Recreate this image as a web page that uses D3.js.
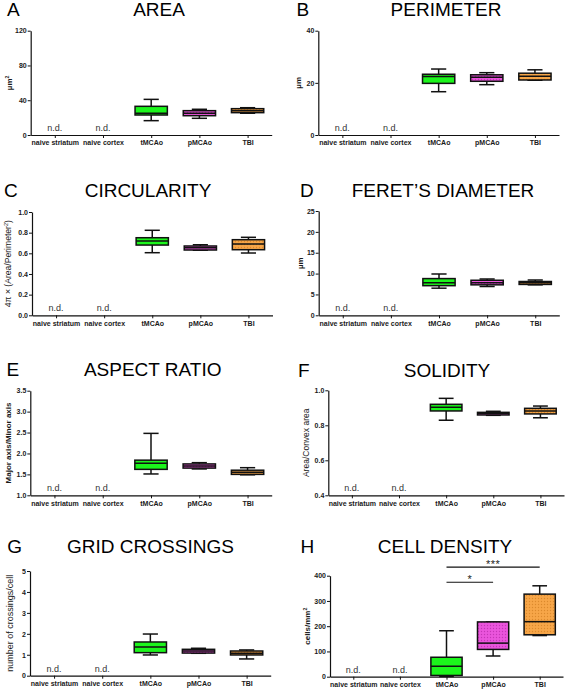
<!DOCTYPE html>
<html><head><meta charset="utf-8">
<script src="https://cdn.jsdelivr.net/npm/d3@7"></script>
<style>body{margin:0;background:#fff}svg{display:block;font-family:Arial,"Liberation Sans",sans-serif}</style>
</head><body><svg id="c" width="568" height="690"></svg>
<script>
// ---------- data ----------
const categories = ["naive striatum", "naive cortex", "tMCAo", "pMCAo", "TBI"];
const panelLetters = ["A", "B", "C", "D", "E", "F", "G", "H"];
const panelTitles = ["AREA", "PERIMETER", "CIRCULARITY", "FERET\u2019S DIAMETER", "ASPECT RATIO", "SOLIDITY", "GRID CROSSINGS", "CELL DENSITY"];
// box stats: [min, q1, median, q3, max]; null = n.d.
const areaBox = [null, null, [16.5, 23, 25, 33, 41], [19.2, 22.2, 25, 28, 29.6], [25, 25.7, 28, 30.3, 31.4]];
const perimeterBox = [null, null, [16.6, 19.8, 22.4, 23.3, 25.3], [19.3, 20.6, 22.1, 23.1, 23.9], [21, 21.1, 22.5, 23.7, 25]];
const circularityBox = [null, null, [0.606, 0.68, 0.719, 0.751, 0.823], [0.63, 0.632, 0.654, 0.671, 0.683], [0.603, 0.635, 0.69, 0.732, 0.755]];
const feretBox = [null, null, [6.5, 7.1, 7.8, 8.8, 9.9], [6.9, 7.3, 7.8, 8.4, 8.7], [7.3, 7.4, 7.8, 8.1, 8.46]];
const aspectBox = [null, null, [1.51, 1.62, 1.765, 1.84, 2.48], [1.63, 1.65, 1.70, 1.75, 1.78], [1.49, 1.50, 1.55, 1.60, 1.66]];
const solidityBox = [null, null, [0.829, 0.882, 0.903, 0.92, 0.954], [0.857, 0.859, 0.868, 0.874, 0.88], [0.843, 0.865, 0.882, 0.897, 0.91]];
const gridBox = [null, null, [0.99, 1.10, 1.37, 1.61, 1.99], [1.07, 1.08, 1.18, 1.26, 1.31], [0.80, 0.99, 1.07, 1.18, 1.23]];
const densityBox = [null, null, [1, 5, 41, 77, 182], [82, 108, 133, 217, 217], [163, 166, 218, 327, 360]];
// y axes
const areaTicks = [0, 40, 80, 120];
const perimeterTicks = [0, 20, 40];
const circularityTicks = [0, 0.2, 0.4, 0.6, 0.8, 1.0];
const feretTicks = [0, 5, 10, 15, 20, 25];
const aspectTicks = [1.0, 1.5, 2.0, 2.5, 3.0, 3.5];
const solidityTicks = [0.4, 0.6, 0.8, 1.0];
const gridTicks = [0, 1, 2, 3, 4, 5];
const densityTicks = [0, 100, 200, 300, 400];
const yLabels = [
  [["\u00b5m"], ["2", 1]],
  [["\u00b5m"]],
  [["4\u03c0 \u00d7 (Area/Perimeter"], ["2", 1], [")", 2]],
  [["\u00b5m"]],
  [["Major axis/Minor axis"]],
  [["Area/Convex area"]],
  [["number of crossings/cell"]],
  [["cells/mm"], ["2", 1]]
];
// significance in H: [from, to, bar level (cells/mm2), label]
const densitySig = [["tMCAo", "TBI", 434, "***"], ["tMCAo", "pMCAo", 374, "*"]];

// ---------- layout ----------
const fills = { "tMCAo": "#1cf51c", "pMCAo": "url(#patP)", "TBI": "url(#patT)" };
const panels = [
  { box: areaBox, ticks: areaTicks, fmt: d3.format("d"), x0: 30.7, x1: 271.7, yTop: 30.7, yBot: 135, tx: 159, ty: 15.5, lx: 7, ylx: 12, yl: { size: 8, bold: 1 } },
  { box: perimeterBox, ticks: perimeterTicks, fmt: d3.format("d"), x0: 318.3, x1: 559, yTop: 30.7, yBot: 135, tx: 446, ty: 15.5, lx: 296.5, ylx: 301, yl: { size: 8, bold: 1 } },
  { box: circularityBox, ticks: circularityTicks, fmt: d3.format(".1f"), x0: 32, x1: 272.5, yTop: 212, yBot: 315.3, tx: 148, ty: 196.7, lx: 4, ylx: 11, yl: { size: 8.6, bold: 0 } },
  { box: feretBox, ticks: feretTicks, fmt: d3.format("d"), x0: 318.7, x1: 559.3, yTop: 211, yBot: 315.3, tx: 443, ty: 196.7, lx: 300, ylx: 302.5, yl: { size: 8, bold: 1 } },
  { box: aspectBox, ticks: aspectTicks, fmt: d3.format(".1f"), x0: 30.3, x1: 271.7, yTop: 390.7, yBot: 495.3, tx: 152.7, ty: 375.5, lx: 6.5, ylx: 11, yl: { size: 8, bold: 1 } },
  { box: solidityBox, ticks: solidityTicks, fmt: d3.format(".1f"), x0: 328.3, x1: 564, yTop: 390.3, yBot: 495.3, tx: 447, ty: 376.5, lx: 298, ylx: 309, yl: { size: 8.5, bold: 0 } },
  { box: gridBox, ticks: gridTicks, fmt: d3.format("d"), x0: 30, x1: 270.7, yTop: 571, yBot: 675.7, tx: 150.5, ty: 553, lx: 7.3, ylx: 13, yl: { size: 9, bold: 0 } },
  { box: densityBox, ticks: densityTicks, fmt: d3.format("d"), x0: 330, x1: 563, yTop: 575.7, yBot: 676.7, tx: 445, ty: 553, lx: 300.5, ylx: 310, yl: { size: 8, bold: 1 }, sig: densitySig }
];

const svg = d3.select("#c");
const defs = svg.append("defs");
function dotPattern(id, bg, dot) {
  const p = defs.append("pattern").attr("id", id).attr("patternUnits", "userSpaceOnUse").attr("width", 3).attr("height", 3);
  p.append("rect").attr("width", 3).attr("height", 3).attr("fill", bg);
  p.append("circle").attr("cx", 1.5).attr("cy", 1.5).attr("r", 0.7).attr("fill", dot);
}
dotPattern("patP", "#ea55dc", "#c535b8");
dotPattern("patT", "#f7a648", "#dc8a2c");

panels.forEach((p, i) => {
  const g = svg.append("g");
  const x = d3.scalePoint().domain(categories).range([p.x0, p.x1]).padding(0.5);
  const y = d3.scaleLinear().domain([p.ticks[0], p.ticks[p.ticks.length - 1]]).range([p.yBot, p.yTop]);
  const bw = x.step() * 0.67, cw = bw * 0.47;

  // titles
  g.append("text").attr("x", p.lx).attr("y", p.ty).attr("font-size", 19).attr("fill", "#000").text(panelLetters[i]);
  g.append("text").attr("x", p.tx).attr("y", p.ty).attr("text-anchor", "middle").attr("font-size", 19).attr("fill", "#000").text(panelTitles[i]);

  // axes
  const ya = g.append("g").attr("transform", `translate(${p.x0},0)`)
    .call(d3.axisLeft(y).tickValues(p.ticks).tickFormat(p.fmt).tickSize(3).tickSizeOuter(0).tickPadding(1));
  const xa = g.append("g").attr("transform", `translate(0,${p.yBot})`)
    .call(d3.axisBottom(x).tickSize(3).tickSizeOuter(0).tickPadding(2.5));
  [ya, xa].forEach(a => {
    a.select(".domain").attr("stroke", "#111").attr("stroke-width", 1.2);
    a.selectAll(".tick line").attr("stroke", "#111").attr("stroke-width", 1);
    a.selectAll("text").attr("font-size", 7).attr("font-weight", "bold").attr("fill", "#1a1a1a").attr("font-family", "Arial,'Liberation Sans',sans-serif");
  });

  // y label
  const yt = g.append("text").attr("transform", `translate(${p.ylx},${(p.yTop + p.yBot) / 2}) rotate(-90)`)
    .attr("text-anchor", "middle").attr("font-size", p.yl.size).attr("font-weight", p.yl.bold ? "bold" : "normal").attr("fill", "#1a1a1a");
  yLabels[i].forEach(seg => {
    const ts = yt.append("tspan").text(seg[0]);
    if (seg[1] === 1) ts.attr("font-size", p.yl.size * 0.65).attr("dy", -p.yl.size * 0.35);
    if (seg[1] === 2) ts.attr("dy", p.yl.size * 0.35);
  });

  // boxes
  categories.forEach((c, k) => {
    const d = p.box[k];
    const cx = x(c);
    if (!d) {
      g.append("text").attr("x", cx).attr("y", p.yBot - 4).attr("text-anchor", "middle").attr("font-size", 9).attr("fill", "#333").text("n.d.");
      return;
    }
    const [mn, q1, md, q3, mx] = d;
    const ln = (x1, y1, x2, y2) => g.append("line").attr("x1", x1).attr("y1", y1).attr("x2", x2).attr("y2", y2).attr("stroke", "#111").attr("stroke-width", 1.5);
    ln(cx, y(mx), cx, y(q3));
    ln(cx, y(q1), cx, y(mn));
    ln(cx - cw / 2, y(mx), cx + cw / 2, y(mx));
    ln(cx - cw / 2, y(mn), cx + cw / 2, y(mn));
    g.append("rect").attr("x", cx - bw / 2).attr("y", y(q3)).attr("width", bw).attr("height", Math.max(1, y(q1) - y(q3)))
      .attr("fill", fills[c]).attr("stroke", "#111").attr("stroke-width", 1.5);
    ln(cx - bw / 2, y(md), cx + bw / 2, y(md));
  });

  // significance
  (p.sig || []).forEach(s => {
    const yy = y(s[2]);
    g.append("line").attr("x1", x(s[0])).attr("x2", x(s[1])).attr("y1", yy).attr("y2", yy).attr("stroke", "#111").attr("stroke-width", 1.2);
    g.append("text").attr("x", (x(s[0]) + x(s[1])) / 2).attr("y", yy + 0.5).attr("text-anchor", "middle")
      .attr("font-size", 11).attr("letter-spacing", 0.5).attr("fill", "#222").text(s[3]);
  });
});
</script></body></html>
